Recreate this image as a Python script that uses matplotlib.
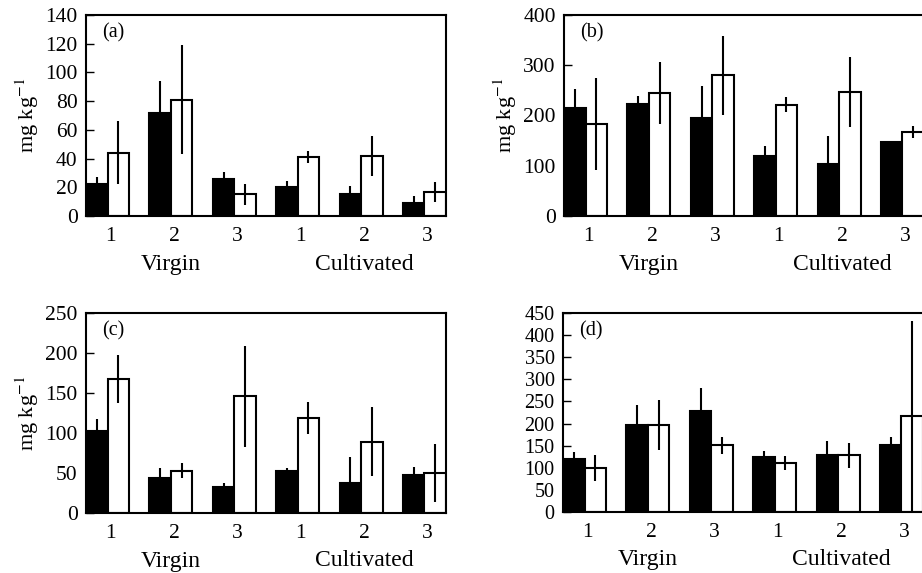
import matplotlib
matplotlib.use("Agg")
import matplotlib.pyplot as plt
import matplotlib.transforms as mtransforms
import numpy as np

plt.rcParams['font.family'] = ['Liberation Serif', 'DejaVu Serif']
plt.rcParams['mathtext.fontset'] = 'stix'

sites = ['1', '2', '3', '1', '2', '3']
groups = ['Virgin', 'Cultivated']

a_black = [22, 72, 26, 20, 15, 9]
a_black_err = [5, 22, 4.5, 4.5, 6, 5]
a_white = [44, 81, 15, 41, 42, 17]
a_white_err = [22, 38, 7, 4, 14, 7]

b_black = [214, 223, 196, 119, 104, 147]
b_black_err = [39, 16, 63, 21, 56, 3]
b_white = [183, 245, 280, 221, 247, 167]
b_white_err = [92, 62, 79, 15, 70, 12]

c_black = [103, 44, 32, 52, 38, 48]
c_black_err = [14, 12, 6, 4, 32, 9]
c_white = [168, 53, 146, 119, 89, 50]
c_white_err = [30, 9, 63, 20, 43, 36]

d_black = [119, 197, 229, 125, 130, 152]
d_black_err = [17, 45, 52, 13.5, 31, 18]
d_white = [99, 197, 151, 110, 128, 216]
d_white_err = [29, 56, 19.5, 16, 28, 215]

panels = [
    ('(a)', a_black, a_black_err, a_white, a_white_err, 140, 20, True, 15.5),
    ('(b)', b_black, b_black_err, b_white, b_white_err, 400, 100, True, 15.5),
    ('(c)', c_black, c_black_err, c_white, c_white_err, 250, 50, True, 15.5),
    ('(d)', d_black, d_black_err, d_white, d_white_err, 450, 50, False, 14.5),
]

W, H = 922, 573
fig = plt.figure(figsize=(W / 100, H / 100), dpi=100)

boxes = [
    (86, 15, 446, 216),
    (564, 15, 924, 216),
    (86, 313, 446, 513),
    (563, 313, 923, 512),
]

bw = 0.34
for (label, blk, blk_e, wht, wht_e, ymax, ystep, ylab, tfs), (l, t, r, b) in zip(panels, boxes):
    ax = fig.add_axes([l / W, 1 - b / H, (r - l) / W, (b - t) / H])
    x = np.arange(len(sites))
    ax.bar(x - bw / 2, blk, width=bw, color='black', edgecolor='black', linewidth=1.5, zorder=2)
    ax.bar(x + bw / 2, wht, width=bw, color='white', edgecolor='black', linewidth=1.5, zorder=2)
    ax.errorbar(x - bw / 2, blk, yerr=blk_e, fmt='none', ecolor='black', elinewidth=1.5, capsize=0, zorder=3)
    ax.errorbar(x + bw / 2, wht, yerr=wht_e, fmt='none', ecolor='black', elinewidth=1.5, capsize=0, zorder=3)
    ax.set_xlim(-bw, len(sites) - 1 + bw)
    ax.set_ylim(0, ymax)
    ax.set_yticks(np.arange(0, ymax + 1, ystep))
    ax.set_xticks(x + 0.05)
    ax.set_xticklabels(sites)
    ax.tick_params(axis='y', direction='in', length=5.5, width=1, labelsize=tfs, pad=6)
    ax.tick_params(axis='x', length=0, labelsize=15.5, pad=8)
    for s in ax.spines.values():
        s.set_linewidth(1.5)
    if ylab:
        ax.set_ylabel('mg kg$^{-1}$', fontsize=16, labelpad=3)
    ax.text(0.045, 0.91, label, transform=ax.transAxes, fontsize=14.5, va='center', ha='left')
    trans = mtransforms.blended_transform_factory(ax.transData, ax.transAxes)
    ax.text(1.0, -0.24, groups[0], transform=trans, ha='center', va='center', fontsize=17)
    ax.text(4.05, -0.24, groups[1], transform=trans, ha='center', va='center', fontsize=17)

fig.savefig('out.png', dpi=100)
